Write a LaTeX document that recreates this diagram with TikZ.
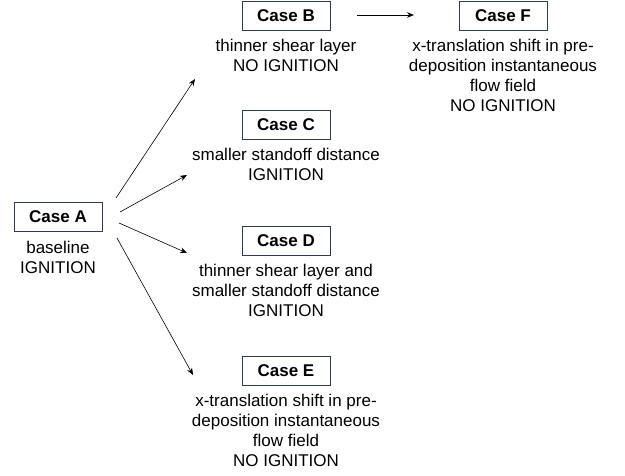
\documentclass[tikz,border=0pt]{standalone}
\usepackage{fontspec}
\setmainfont{Liberation Sans}
\usetikzlibrary{arrows.meta,positioning}
\definecolor{boxline}{HTML}{2E3A56}

\begin{document}
\begin{tikzpicture}[x=1pt,y=-1pt,
  casebox/.style={draw=boxline,line width=1pt,minimum width=88pt,minimum height=29pt,
    inner sep=0pt,font=\fontsize{17}{20}\selectfont\bfseries},
  caption/.style={inner sep=0pt,align=center,font=\fontsize{17}{20}\selectfont},
  link/.style={line width=0.6pt,-{Stealth[length=7pt,width=5.5pt]}}]
\useasboundingbox (0,0) rectangle (625,475);
% case boxes
\node[casebox] (a) at (58,217) {Case A};
\node[casebox] (b) at (286,16) {Case B};
\node[casebox] (f) at (503,16) {Case F};
\node[casebox] (c) at (286,125) {Case C};
\node[casebox] (d) at (286,241) {Case D};
\node[casebox] (e) at (286,371) {Case E};
% descriptions
\node[caption,below=9pt of a] (atext) {baseline\\IGNITION};
\node[caption,below=8pt of b] (btext) {thinner shear layer\\NO IGNITION};
\node[caption,below=8pt of f] (ftext) {x-translation shift in pre-\\deposition instantaneous\\flow field\\NO IGNITION};
\node[caption,below=8pt of c] (ctext) {smaller standoff distance\\IGNITION};
\node[caption,below=8pt of d] (dtext) {thinner shear layer and\\smaller standoff distance\\IGNITION};
\node[caption,below=8pt of e] (etext) {x-translation shift in pre-\\deposition instantaneous\\flow field\\NO IGNITION};
% arrow ends
\coordinate (ab0) at (116,198);
\coordinate (ab1) at (195,79);
\coordinate (ac0) at (120,212);
\coordinate (ac1) at (187,175);
\coordinate (ad0) at (119,223);
\coordinate (ad1) at (187,253);
\coordinate (ae0) at (117,238);
\coordinate (ae1) at (193,375);
\coordinate (bf0) at (357,15);
\coordinate (bf1) at (414,15);
\draw[link] (ab0) -- (ab1);
\draw[link] (ac0) -- (ac1);
\draw[link] (ad0) -- (ad1);
\draw[link] (ae0) -- (ae1);
\draw[link] (bf0) -- (bf1);
\end{tikzpicture}
\end{document}
